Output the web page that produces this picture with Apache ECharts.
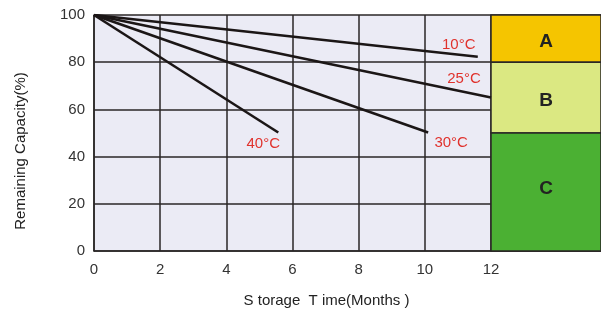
<!DOCTYPE html>
<html>
<head>
<meta charset="utf-8">
<script src="https://cdn.jsdelivr.net/npm/echarts@6/dist/echarts.min.js"></script>
<style>
  html, body { margin: 0; padding: 0; background: #fff; }
  #chart { width: 601px; height: 309px; }
</style>
</head>
<body>
<div id="chart"></div>
<script>
// months / remaining capacity for each storage temperature
const temps = ['10°C', '25°C', '30°C', '40°C'];
const months10 = [0, 11.6];
const cap10 = [100, 82.3];
const months25 = [0, 12];
const cap25 = [100, 65];
const months30 = [0, 10.1];
const cap30 = [100, 50.2];
const months40 = [0, 5.57];
const cap40 = [100, 50.2];

// grade bands on the right
const grades = ['A', 'B', 'C'];
const gradeLow = [80, 50, 0];
const gradeHigh = [100, 80, 50];
const gradeColors = ['#f5c500', '#dbe882', '#4bb033'];

const xTicks = [0, 2, 4, 6, 8, 10, 12];
const xMax = 15.325;

// label offsets for the temperature tags (px)
const tagOffsets = [[-19, -12], [-27, -19], [23, 10], [-15, 11]];
const gradeOffsets = [[0, 3], [0, 3], [0, -3]];

function pairs(xs, ys) {
  return xs.map((x, i) => [x, ys[i]]);
}

const lineData = [
  pairs(months10, cap10),
  pairs(months25, cap25),
  pairs(months30, cap30),
  pairs(months40, cap40)
];

const series = lineData.map((d, k) => ({
  type: 'line',
  name: temps[k],
  data: d.map((p, i) => i === d.length - 1 ? {
    value: p,
    label: {
      show: true,
      position: 'inside',
      offset: tagOffsets[k],
      formatter: temps[k],
      color: '#e0322d',
      fontSize: 15,
      fontFamily: 'Liberation Sans'
    }
  } : p),
  symbol: 'circle',
  symbolSize: 0,
  showSymbol: true,
  lineStyle: { color: '#1b1616', width: 2.6 },
  itemStyle: { color: '#1b1616' },
  z: 5,
  animation: false
}));

series.push({
  type: 'line',
  data: [],
  silent: true,
  markArea: {
    silent: true,
    itemStyle: { borderColor: '#2a2626', borderWidth: 1.5 },
    label: {
      position: 'inside',
      fontSize: 19,
      fontWeight: 'bold',
      color: '#222',
      fontFamily: 'Liberation Sans'
    },
    data: grades.map((g, i) => [
      {
        name: g, xAxis: 12, yAxis: gradeHigh[i],
        itemStyle: { color: gradeColors[i], opacity: 1 },
        label: { offset: gradeOffsets[i] }
      },
      { xAxis: xMax, yAxis: gradeLow[i] }
    ])
  },
  z: 6,
  animation: false
});

const chart = echarts.init(document.getElementById('chart'));
chart.setOption({
  animation: false,
  grid: {
    left: 94, top: 15, right: 0, bottom: 58,
    outerBoundsMode: 'none',
    containLabel: false,
    show: true,
    backgroundColor: '#ebebf5',
    borderWidth: 0
  },
  xAxis: {
    type: 'value',
    min: 0,
    max: xMax,
    interval: 2,
    name: 'S torage  T ime(Months )',
    nameLocation: 'middle',
    nameGap: 42,
    nameTextStyle: {
      fontSize: 15, color: '#222', fontFamily: 'Liberation Sans',
      padding: [0, 42, 0, 0]
    },
    axisLine: { show: true, lineStyle: { color: '#2a2626', width: 1.5 } },
    axisTick: { show: false },
    axisLabel: {
      showMaxLabel: false,
      margin: 11,
      fontSize: 15,
      color: '#333',
      fontFamily: 'Liberation Sans',
      formatter: v => xTicks.indexOf(v) >= 0 ? String(v) : ''
    },
    splitLine: { show: true, lineStyle: { color: '#2a2626', width: 1.5 } }
  },
  yAxis: {
    type: 'value',
    min: 0,
    max: 100,
    interval: 20,
    name: 'Remaining Capacity(%)',
    nameLocation: 'middle',
    nameGap: 66,
    nameTextStyle: {
      fontSize: 15, color: '#222', fontFamily: 'Liberation Sans',
      padding: [0, 36, 0, 0]
    },
    axisLine: { show: true, lineStyle: { color: '#2a2626', width: 1.5 } },
    axisTick: { show: false },
    axisLabel: { margin: 9, fontSize: 15, color: '#333', fontFamily: 'Liberation Sans' },
    splitLine: { show: true, lineStyle: { color: '#2a2626', width: 1.5 } }
  },
  series: series
});
</script>
</body>
</html>
